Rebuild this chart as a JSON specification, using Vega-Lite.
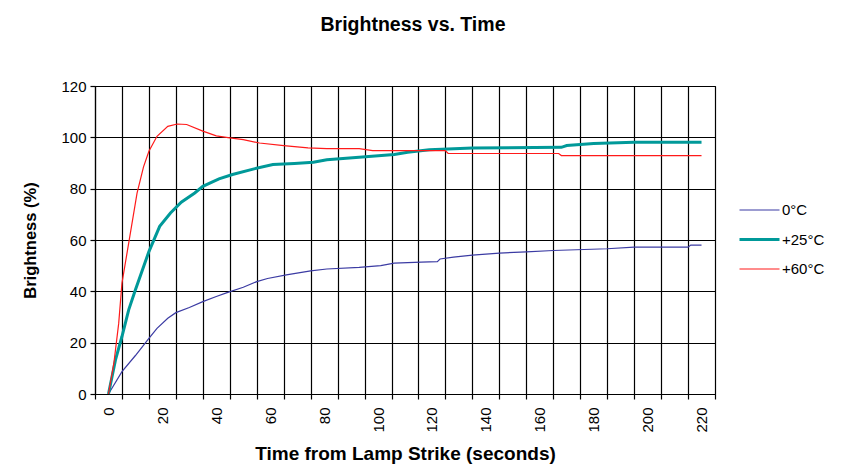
{
  "$schema": "https://vega.github.io/schema/vega-lite/v6.json",
  "width": 620,
  "height": 308,
  "autosize": "none",
  "padding": {"left": 95, "top": 86, "right": 127, "bottom": 73},
  "background": "white",
  "config": {
    "font": "Liberation Sans",
    "view": {"stroke": "black", "strokeWidth": 1}
  },
  "title": {
    "text": "Brightness vs. Time",
    "fontSize": 19.5,
    "fontWeight": "bold",
    "font": "Liberation Sans",
    "color": "black",
    "anchor": "middle",
    "dx": 8,
    "offset": 44
  },
  "data": {
    "values": [
      {"t": 0, "v": 0, "s": "0°C"},
      {"t": 5, "v": 8.7, "s": "0°C"},
      {"t": 10, "v": 15, "s": "0°C"},
      {"t": 15, "v": 21.7, "s": "0°C"},
      {"t": 18, "v": 25.6, "s": "0°C"},
      {"t": 22, "v": 29.5, "s": "0°C"},
      {"t": 25, "v": 31.7, "s": "0°C"},
      {"t": 30, "v": 33.7, "s": "0°C"},
      {"t": 35, "v": 36, "s": "0°C"},
      {"t": 40, "v": 38, "s": "0°C"},
      {"t": 44, "v": 39.5, "s": "0°C"},
      {"t": 50, "v": 41.6, "s": "0°C"},
      {"t": 55, "v": 43.8, "s": "0°C"},
      {"t": 59, "v": 45, "s": "0°C"},
      {"t": 66, "v": 46.4, "s": "0°C"},
      {"t": 75, "v": 48, "s": "0°C"},
      {"t": 81, "v": 48.7, "s": "0°C"},
      {"t": 93, "v": 49.3, "s": "0°C"},
      {"t": 101, "v": 50, "s": "0°C"},
      {"t": 106, "v": 51, "s": "0°C"},
      {"t": 116, "v": 51.4, "s": "0°C"},
      {"t": 122, "v": 51.6, "s": "0°C"},
      {"t": 123, "v": 52.6, "s": "0°C"},
      {"t": 128, "v": 53.3, "s": "0°C"},
      {"t": 135, "v": 54.1, "s": "0°C"},
      {"t": 145, "v": 54.9, "s": "0°C"},
      {"t": 155, "v": 55.4, "s": "0°C"},
      {"t": 165, "v": 55.9, "s": "0°C"},
      {"t": 185, "v": 56.6, "s": "0°C"},
      {"t": 195, "v": 57.2, "s": "0°C"},
      {"t": 215, "v": 57.2, "s": "0°C"},
      {"t": 216, "v": 58, "s": "0°C"},
      {"t": 220, "v": 58, "s": "0°C"},
      {"t": 0, "v": 0, "s": "+25°C"},
      {"t": 2.6, "v": 13.3, "s": "+25°C"},
      {"t": 5, "v": 22.4, "s": "+25°C"},
      {"t": 7.5, "v": 32.8, "s": "+25°C"},
      {"t": 10, "v": 40.6, "s": "+25°C"},
      {"t": 15, "v": 55.5, "s": "+25°C"},
      {"t": 19, "v": 65.3, "s": "+25°C"},
      {"t": 23, "v": 70.5, "s": "+25°C"},
      {"t": 27, "v": 74.7, "s": "+25°C"},
      {"t": 32, "v": 78.3, "s": "+25°C"},
      {"t": 35, "v": 80.9, "s": "+25°C"},
      {"t": 41, "v": 83.8, "s": "+25°C"},
      {"t": 46, "v": 85.5, "s": "+25°C"},
      {"t": 54, "v": 87.7, "s": "+25°C"},
      {"t": 61, "v": 89.4, "s": "+25°C"},
      {"t": 69, "v": 89.8, "s": "+25°C"},
      {"t": 76, "v": 90.3, "s": "+25°C"},
      {"t": 81, "v": 91.3, "s": "+25°C"},
      {"t": 93, "v": 92.2, "s": "+25°C"},
      {"t": 106, "v": 93.3, "s": "+25°C"},
      {"t": 111, "v": 94.2, "s": "+25°C"},
      {"t": 119, "v": 95.2, "s": "+25°C"},
      {"t": 135, "v": 95.8, "s": "+25°C"},
      {"t": 168, "v": 96.1, "s": "+25°C"},
      {"t": 170, "v": 96.8, "s": "+25°C"},
      {"t": 180, "v": 97.6, "s": "+25°C"},
      {"t": 195, "v": 98.1, "s": "+25°C"},
      {"t": 220, "v": 98.1, "s": "+25°C"},
      {"t": 0, "v": 0, "s": "+60°C"},
      {"t": 2, "v": 12, "s": "+60°C"},
      {"t": 3.8, "v": 27.6, "s": "+60°C"},
      {"t": 5, "v": 43.2, "s": "+60°C"},
      {"t": 7.5, "v": 58.8, "s": "+60°C"},
      {"t": 10.6, "v": 78.3, "s": "+60°C"},
      {"t": 13, "v": 88.5, "s": "+60°C"},
      {"t": 15, "v": 94.6, "s": "+60°C"},
      {"t": 18, "v": 100.4, "s": "+60°C"},
      {"t": 22, "v": 104.3, "s": "+60°C"},
      {"t": 25.5, "v": 105.2, "s": "+60°C"},
      {"t": 29, "v": 105, "s": "+60°C"},
      {"t": 35, "v": 102.4, "s": "+60°C"},
      {"t": 40, "v": 100.6, "s": "+60°C"},
      {"t": 45, "v": 99.8, "s": "+60°C"},
      {"t": 50, "v": 99.1, "s": "+60°C"},
      {"t": 56, "v": 97.8, "s": "+60°C"},
      {"t": 65, "v": 96.8, "s": "+60°C"},
      {"t": 74, "v": 95.9, "s": "+60°C"},
      {"t": 81, "v": 95.6, "s": "+60°C"},
      {"t": 93, "v": 95.6, "s": "+60°C"},
      {"t": 98, "v": 94.8, "s": "+60°C"},
      {"t": 125, "v": 94.8, "s": "+60°C"},
      {"t": 126, "v": 93.7, "s": "+60°C"},
      {"t": 167, "v": 93.7, "s": "+60°C"},
      {"t": 168, "v": 92.9, "s": "+60°C"},
      {"t": 220, "v": 92.9, "s": "+60°C"}
    ]
  },
  "mark": {"type": "line", "interpolate": "linear"},
  "encoding": {
    "x": {
      "field": "t",
      "type": "quantitative",
      "scale": {"domain": [-5, 225], "nice": false, "zero": false},
      "axis": {
        "values": [-5, 5, 15, 25, 35, 45, 55, 65, 75, 85, 95, 105, 115, 125, 135, 145, 155, 165, 175, 185, 195, 205, 215, 225],
        "labelExpr": "(datum.value + 5) % 20 == 0 && datum.value < 225 ? '' + (datum.value + 5) : ''",
        "labelOffset": 13.5,
        "labelAngle": -90,
        "labelFontSize": 15,
        "labelColor": "black",
        "labelPadding": 8,
        "labelFlush": false,
        "labelOverlap": false,
        "grid": true,
        "gridColor": "black",
        "gridWidth": 1.2,
        "gridOpacity": 1,
        "domainColor": "black",
        "domainWidth": 1.2,
        "tickColor": "black",
        "tickSize": 5,
        "tickWidth": 1.2,
        "title": "Time from Lamp Strike (seconds)",
        "titleFontSize": 19,
        "titleFontWeight": "bold",
        "titleColor": "black",
        "titlePadding": 12,
        "titleX": 310
      }
    },
    "y": {
      "field": "v",
      "type": "quantitative",
      "scale": {"domain": [0, 120], "nice": false},
      "axis": {
        "values": [0, 20, 40, 60, 80, 100, 120],
        "labelFontSize": 15,
        "labelColor": "black",
        "labelPadding": 4,
        "grid": true,
        "gridColor": "black",
        "gridWidth": 1.2,
        "gridOpacity": 1,
        "domainColor": "black",
        "domainWidth": 1.2,
        "tickColor": "black",
        "tickSize": 5,
        "tickWidth": 1.2,
        "title": "Brightness (%)",
        "titleFontSize": 16.5,
        "titleFontWeight": "bold",
        "titleColor": "black",
        "titlePadding": 22
      }
    },
    "color": {
      "field": "s",
      "type": "nominal",
      "sort": ["0°C", "+25°C", "+60°C"],
      "scale": {"domain": ["0°C", "+25°C", "+60°C"], "range": ["#3b3ba3", "#009999", "#ff1a1a"]},
      "legend": {
        "title": null,
        "orient": "none",
        "legendX": 643,
        "legendY": 103,
        "symbolType": "stroke",
        "symbolSize": 1600,
        "labelFontSize": 15,
        "labelColor": "black",
        "labelOffset": 1,
        "rowPadding": -8
      }
    },
    "strokeWidth": {
      "field": "s",
      "type": "nominal",
      "sort": ["0°C", "+25°C", "+60°C"],
      "scale": {"type": "ordinal", "domain": ["0°C", "+25°C", "+60°C"], "range": [1.2, 3, 1.2]},
      "legend": {
        "title": null,
        "orient": "none",
        "legendX": 643,
        "legendY": 103,
        "symbolType": "stroke",
        "symbolSize": 1600,
        "labelFontSize": 15,
        "labelColor": "black",
        "labelOffset": 1,
        "rowPadding": -8
      }
    }
  }
}
